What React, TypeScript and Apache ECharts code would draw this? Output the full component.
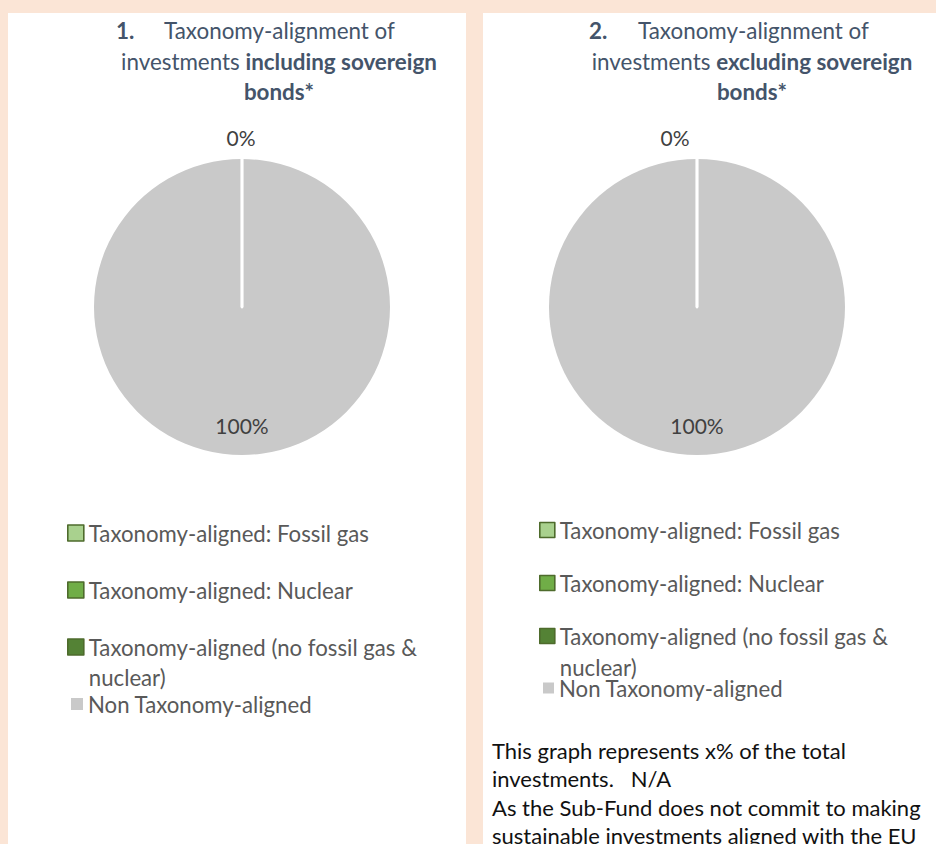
import React, { useEffect, useRef } from 'react';
import * as echarts from 'echarts';

// ---- data ----
const categories = [
  'Taxonomy-aligned: Fossil gas',
  'Taxonomy-aligned: Nuclear',
  'Taxonomy-aligned (no fossil gas & nuclear)',
  'Non Taxonomy-aligned',
];
const legendLabels = [
  'Taxonomy-aligned: Fossil gas',
  'Taxonomy-aligned: Nuclear',
  'Taxonomy-aligned (no fossil gas &\nnuclear)',
  'Non Taxonomy-aligned',
];
const includingSovereignValues = [0, 0, 0, 100];
const excludingSovereignValues = [0, 0, 0, 100];
const sliceColors = ['#A9D18E', '#70AD47', '#548235', '#C9C9C9'];

const FONT = 'Lato';
const TITLE_COLOR = '#44546A';
const LEGEND_COLOR = '#595959';
const LABEL_COLOR = '#404040';
const ICON_BORDER = '#4E6B2C';
const TITLE_SIZE = 22.4;
const LEGEND_SIZE = 22.2;

type ChartLayout = {
  center: [number, number];
  radius: number;
  zeroLabelDx: number;
  legendIconLeft: number;
  legendIconSize: number;
  legendGreyLeft: number;
  legendGreySize: number;
  legendRows: number[]; // row centres (first line)
  wrapLineHeight: number;
};

const leftLayout: ChartLayout = {
  center: [242, 307],
  radius: 148,
  zeroLabelDx: -1,
  legendIconLeft: 67,
  legendIconSize: 16,
  legendGreyLeft: 71,
  legendGreySize: 12,
  legendRows: [533, 590, 647, 704],
  wrapLineHeight: 30,
};
const rightLayout: ChartLayout = {
  center: [697, 307],
  radius: 148,
  zeroLabelDx: -22,
  legendIconLeft: 539,
  legendIconSize: 15,
  legendGreyLeft: 543,
  legendGreySize: 11,
  legendRows: [530, 583, 636, 688],
  wrapLineHeight: 31,
};

function buildSeries(values: number[], layout: ChartLayout, id: string) {
  // Draw the big slice first so the zero-width slices' white edges sit on top.
  const order = [3, 0, 1, 2];
  const firstZero = order.find((i) => values[i] === 0 && i !== 3);
  const data = order.map((i) => ({
    name: categories[i],
    value: values[i],
    itemStyle: {
      color: sliceColors[i],
      borderColor: '#FFFFFF',
      borderWidth: values[i] === 0 ? 2.5 : 0,
    },
    label: { show: i === 3 || i === firstZero },
  }));
  return {
    type: 'pie',
    id,
    center: layout.center,
    radius: [0, layout.radius],
    startAngle: 90,
    clockwise: true,
    avoidLabelOverlap: false,
    silent: true,
    data,
    label: {
      show: true,
      position: 'inside',
      formatter: (p: any) => Math.round(p.percent) + '%',
      fontFamily: FONT,
      fontSize: 21,
      color: LABEL_COLOR,
    },
    labelLine: { show: false },
    labelLayout: (p: any) => {
      const r = p.rect;
      if (p.dataIndex === 0) {
        return {
          x: r.x + r.width / 2,
          y: r.y + r.height * 0.9,
          align: 'center',
          verticalAlign: 'middle',
        };
      }
      return {
        x: r.x + r.width / 2 + layout.zeroLabelDx,
        y: r.y - 20,
        align: 'center',
        verticalAlign: 'middle',
      };
    },
  };
}

function buildLegends(layout: ChartLayout) {
  const legends: any[] = [];
  categories.forEach((name, i) => {
    const isGrey = i === 3;
    const isWrapped = legendLabels[i].includes('\n');
    const lh = isWrapped ? layout.wrapLineHeight : 32;
    const c = layout.legendRows[i];
    const size = isGrey ? layout.legendGreySize : layout.legendIconSize;
    // A wrapped label gets an empty leading line so its first text line sits beside the icon.
    const label = isWrapped ? '\n' + legendLabels[i] : legendLabels[i];
    legends.push({
      orient: 'vertical',
      left: isGrey ? layout.legendGreyLeft : layout.legendIconLeft,
      top: isWrapped ? c - 1.5 * lh : c - 16,
      padding: 0,
      itemGap: 0,
      itemWidth: size,
      itemHeight: size,
      selectedMode: false,
      icon: 'rect',
      formatter: () => label,
      textStyle: {
        fontFamily: FONT,
        fontSize: LEGEND_SIZE,
        color: LEGEND_COLOR,
        lineHeight: lh,
      },
      data: [
        {
          name,
          itemStyle: isGrey
            ? { color: sliceColors[i], borderWidth: 0 }
            : { color: sliceColors[i], borderColor: ICON_BORDER, borderWidth: 1.6 },
        },
      ],
    });
  });
  return legends;
}

function titleGraphics(num: string, numX: number, firstX: number, centerX: number, boldPart: string) {
  const base = { fontFamily: FONT, fontSize: TITLE_SIZE, fill: TITLE_COLOR, verticalAlign: 'middle' };
  return [
    { type: 'text', silent: true, style: { ...base, text: num, x: numX, y: 30, fontWeight: 'bold', align: 'left' } },
    { type: 'text', silent: true, style: { ...base, text: 'Taxonomy-alignment of', x: firstX, y: 30, align: 'left' } },
    {
      type: 'text',
      silent: true,
      style: {
        ...base,
        text: 'investments {b|' + boldPart + '}',
        x: centerX,
        y: 61,
        align: 'center',
        rich: { b: { fontFamily: FONT, fontSize: TITLE_SIZE, fill: TITLE_COLOR, fontWeight: 'bold' } },
      },
    },
    { type: 'text', silent: true, style: { ...base, text: 'bonds*', x: centerX, y: 91, fontWeight: 'bold', align: 'center' } },
  ];
}

const noteLines = [
  'This graph represents x% of the total',
  'investments.   N/A',
  'As the Sub-Fund does not commit to making',
  'sustainable investments aligned with the EU',
];

export default function App() {
  const ref = useRef<HTMLDivElement>(null);
  useEffect(() => {
    if (!ref.current) return;
    const chart = echarts.init(ref.current, undefined, { renderer: 'svg', width: 936, height: 844 });
    chart.setOption({
      animation: false,
      series: [
        buildSeries(includingSovereignValues, leftLayout, 'incl'),
        buildSeries(excludingSovereignValues, rightLayout, 'excl'),
      ],
      legend: [...buildLegends(leftLayout), ...buildLegends(rightLayout)],
      graphic: [
        ...titleGraphics('1.', 116, 164, 279, 'including sovereign'),
        ...titleGraphics('2.', 589, 638, 752, 'excluding sovereign'),
        {
          type: 'text',
          silent: true,
          style: {
            text: noteLines.join('\n'),
            x: 492,
            y: 736,
            fontFamily: FONT,
            fontSize: 22,
            lineHeight: 28.5,
            fill: '#111111',
            align: 'left',
            verticalAlign: 'top',
          },
        },
      ],
    });
    return () => chart.dispose();
  }, []);

  return (
    <div style={{ position: 'fixed', left: 0, top: 0, width: 936, height: 844, background: '#FBE5D6', overflow: 'hidden' }}>
      <div style={{ position: 'absolute', left: 8, top: 13, width: 458, height: 831, background: '#FFFFFF' }} />
      <div style={{ position: 'absolute', left: 483, top: 13, width: 453, height: 831, background: '#FFFFFF' }} />
      <div ref={ref} style={{ position: 'absolute', left: 0, top: 0, width: 936, height: 844 }} />
    </div>
  );
}
